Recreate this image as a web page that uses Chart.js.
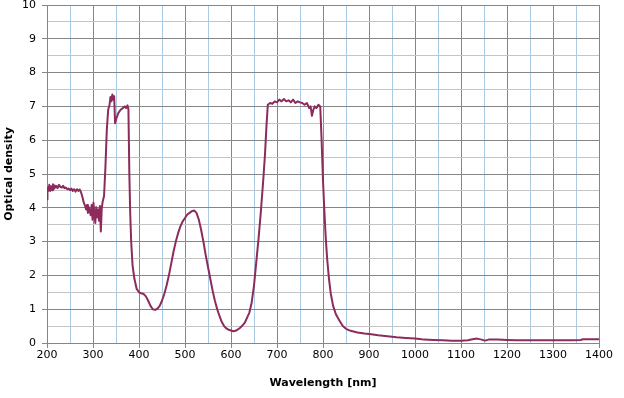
<!DOCTYPE html>
<html>
<head>
<meta charset="utf-8">
<script src="https://cdn.jsdelivr.net/npm/chart.js@4/dist/chart.umd.min.js"></script>
<style>
  html, body { margin: 0; padding: 0; background: #ffffff; }
  #wrap { width: 624px; height: 398px; }
</style>
</head>
<body>
<div id="wrap"><canvas id="c" width="624" height="398"></canvas></div>
<script>
const wavelengths = [
  200,201,203,205,207,209,211,213,215,217,219,221,223,226,229,232,235,238,241,244,247,250,253,256,259,262,265,268,271,274,277,280,283,285,287,289,291,293,295,297,299,301,303,305,307,309,311,313,315,317,319,321,324,327,330,333,336,338,340,342,344,346,348,351,355,360,365,369,372,375,377,379,381,383,386,390,395,400,405,410,415,420,425,430,435,440,445,450,455,460,465,470,475,480,485,490,495,500,505,510,515,520,525,530,535,540,545,550,555,560,565,570,575,580,585,590,595,600,605,610,615,620,625,630,635,640,645,650,655,660,665,670,674,677,680,685,690,695,700,705,710,715,720,725,730,735,740,745,750,755,760,765,770,773,776,779,782,786,790,794,797,800,803,806,809,813,817,822,828,835,843,850,860,875,890,905,920,940,960,980,1000,1010,1020,1040,1060,1080,1100,1115,1125,1135,1145,1152,1160,1180,1200,1220,1260,1300,1340,1360,1365,1400
];
const opticalDensity = [
  4.25,4.6,4.5,4.68,4.5,4.64,4.52,4.7,4.56,4.66,4.6,4.64,4.58,4.68,4.62,4.6,4.65,4.58,4.6,4.55,4.57,4.52,4.57,4.5,4.55,4.48,4.55,4.5,4.54,4.46,4.32,4.15,4.05,3.95,4.08,3.85,4.02,3.9,3.78,4.08,3.65,4.15,3.82,3.55,4.02,3.72,3.95,3.62,4.05,3.3,3.98,4.18,4.35,5.2,6.3,6.9,7.05,7.28,7.15,7.35,7.2,7.3,6.5,6.65,6.8,6.9,6.95,7.0,6.95,7.03,6.92,5.0,3.8,3.0,2.3,1.9,1.6,1.5,1.47,1.45,1.38,1.25,1.1,1.0,0.98,1.02,1.1,1.25,1.45,1.7,2.0,2.35,2.7,3.0,3.25,3.45,3.6,3.7,3.8,3.85,3.9,3.92,3.85,3.65,3.35,3.0,2.6,2.25,1.9,1.55,1.25,1.0,0.8,0.62,0.5,0.43,0.39,0.37,0.35,0.36,0.4,0.45,0.52,0.6,0.75,0.9,1.2,1.7,2.4,3.1,3.9,4.8,5.6,6.4,7.05,7.1,7.08,7.15,7.12,7.2,7.15,7.22,7.15,7.18,7.12,7.2,7.1,7.15,7.12,7.1,7.05,7.1,6.95,7.0,6.72,6.9,7.0,6.95,7.05,7.0,6.0,4.8,3.9,3.1,2.5,1.9,1.45,1.1,0.85,0.68,0.5,0.42,0.36,0.31,0.28,0.26,0.23,0.2,0.17,0.15,0.13,0.12,0.1,0.09,0.08,0.07,0.07,0.08,0.11,0.13,0.1,0.07,0.1,0.1,0.09,0.08,0.08,0.08,0.08,0.09,0.11,0.11
];
const xTickLabels = [200,300,400,500,600,700,800,900,1000,1100,1200,1300,1400];
const yTickLabels = [0,1,2,3,4,5,6,7,8,9,10];

const points = wavelengths.map((w, i) => ({ x: w, y: opticalDensity[i] }));

const majorGrid = '#868686';
const minorX = '#a9cbe3';
const minorY = '#c4c4c4';
const font = { family: '"DejaVu Sans", Verdana, sans-serif', size: 11 };

new Chart(document.getElementById('c'), {
  type: 'scatter',
  data: {
    datasets: [{
      data: points,
      showLine: true,
      borderColor: '#8c2b5c',
      borderWidth: 2,
      borderJoinStyle: 'round',
      borderCapStyle: 'round',
      pointRadius: 0,
      tension: 0,
      fill: false
    }]
  },
  options: {
    responsive: false,
    animation: false,
    layout: { padding: { top: 5, right: 25, left: 0, bottom: 0 } },
    plugins: { legend: { display: false }, tooltip: { enabled: false } },
    scales: {
      x: {
        type: 'linear',
        min: 200, max: 1400,
        afterBuildTicks: (s) => { const t = []; for (let v = 200; v <= 1400; v += 50) t.push({ value: v }); s.ticks = t; },
        afterFit: (s) => { s.height = 55; s.paddingLeft = 0; s.paddingRight = 0; },
        grid: {
          color: (ctx) => (ctx.tick && ctx.tick.value % 100 === 0) ? majorGrid : minorX,
          tickColor: (ctx) => (ctx.tick && ctx.tick.value % 100 === 0) ? majorGrid : 'rgba(0,0,0,0)',
          tickLength: 5,
          lineWidth: 1
        },
        border: { color: majorGrid },
        ticks: {
          color: '#000',
          font: font,
          maxRotation: 0,
          autoSkip: false,
          padding: 1,
          callback: (v) => xTickLabels.includes(v) ? String(v) : ''
        },
        title: {
          display: true,
          text: 'Wavelength [nm]',
          color: '#000',
          font: { family: font.family, size: 11, weight: 'bold' },
          padding: { top: 0, bottom: 8 }
        }
      },
      y: {
        type: 'linear',
        min: 0, max: 10,
        afterBuildTicks: (s) => { const t = []; for (let v = 0; v <= 10; v += 0.5) t.push({ value: v }); s.ticks = t; },
        afterFit: (s) => { s.width = 47; s.paddingTop = 0; s.paddingBottom = 0; },
        grid: {
          color: (ctx) => (ctx.tick && Number.isInteger(ctx.tick.value)) ? majorGrid : minorY,
          tickColor: (ctx) => (ctx.tick && Number.isInteger(ctx.tick.value)) ? majorGrid : 'rgba(0,0,0,0)',
          tickLength: 5,
          lineWidth: 1
        },
        border: { color: majorGrid },
        ticks: {
          color: '#000',
          font: font,
          autoSkip: false,
          padding: 6,
          callback: (v) => yTickLabels.includes(v) ? String(v) : ''
        },
        title: {
          display: true,
          text: 'Optical density',
          color: '#000',
          font: { family: font.family, size: 11, weight: 'bold' },
          padding: { top: 3, bottom: 4 }
        }
      }
    }
  }
});
</script>
</body>
</html>
